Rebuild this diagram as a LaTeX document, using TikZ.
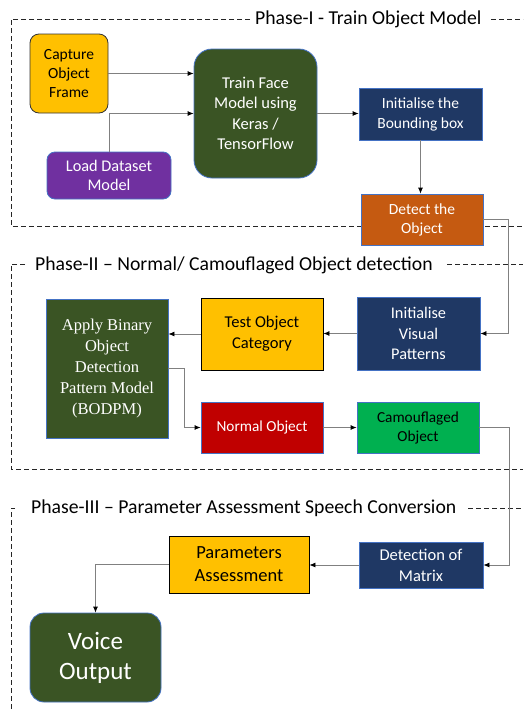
\documentclass[tikz,border=0pt]{standalone}
\usepackage{fontspec}
\setmainfont{Carlito}
\newfontfamily\serifbox{Liberation Serif}
\usetikzlibrary{arrows.meta}
\definecolor{cyellow}{HTML}{FFC000}
\definecolor{cdgreen}{HTML}{3A5424}
\definecolor{cpurple}{HTML}{7030A0}
\definecolor{cnavy}{HTML}{1F3864}
\definecolor{corange}{HTML}{C55A11}
\definecolor{cred}{HTML}{C00000}
\definecolor{cgreen}{HTML}{00B050}
\definecolor{cblueb}{HTML}{4472C4}
\definecolor{cline}{HTML}{808080}
\tikzset{
  box/.style={draw=cblueb, line width=0.8pt, align=center, inner sep=0pt, text=white},
  framedash/.style={draw=black!85, line width=0.7pt, dash pattern=on 5pt off 3pt},
  conn/.style={draw=cline, line width=0.8pt, -{Latex[length=6pt,width=5pt,color=black]}},
  phasetitle/.style={font=\fontsize{19.7}{22}\selectfont, text=black, inner sep=0pt, anchor=west}
}
\begin{document}
\begin{tikzpicture}[x=1pt,y=-1pt]
\useasboundingbox (0,0) rectangle (523,710);
\fill[white] (0,0) rectangle (523,710);
% Phase I frame
\draw[framedash] (250,19) -- (11,19) -- (11,226) -- (523,226);
\draw[framedash] (491,19) -- (523,19);
\node[phasetitle] (t1) at (255,19) {Phase-I - Train Object Model};
% Phase II frame
\draw[framedash] (25,264) -- (11,264) -- (11,469) -- (523,469);
\draw[framedash] (447,264) -- (523,264);
\node[phasetitle] (t2) at (35,265) {Phase-II – Normal/ Camouflaged Object detection};
% Phase III frame
\draw[framedash] (15,508) -- (11,508) -- (11,710);
\draw[framedash] (468,508) -- (523,508);
\node[phasetitle] (t3) at (31,508) {Phase-III – Parameter Assessment Speech Conversion};

% Phase I nodes
\node[box, draw=black!80, fill=cyellow, text=black, rounded corners=9pt, minimum width=78pt, minimum height=79pt,
  font=\fontsize{15.5}{19}\selectfont] (cap) at (69,73.5) {Capture\\Object\\Frame};
\node[box, fill=cdgreen, rounded corners=18pt, minimum width=123pt, minimum height=129pt,
  font=\fontsize{16.5}{20.5}\selectfont] (train) at (255.5,113.5) {Train Face\\Model using\\Keras /\\TensorFlow};
\node[box, fill=cpurple, rounded corners=8pt, minimum width=124pt, minimum height=47pt,
  font=\fontsize{16.3}{19.5}\selectfont] (load) at (109,175.5) {Load Dataset\\Model};
\node[box, fill=cnavy, minimum width=123pt, minimum height=52pt,
  font=\fontsize{15.5}{20}\selectfont] (initbb) at (420.5,114) {Initialise the\\Bounding box};
\node[box, fill=corange, minimum width=122pt, minimum height=51pt,
  font=\fontsize{15.5}{19}\selectfont] (detect) at (422,219.5) {Detect the\\Object};

% Phase II nodes
\node[box, fill=cdgreen, minimum width=122pt, minimum height=139pt,
  font=\serifbox\fontsize{16.5}{20.8}\selectfont] (apply) at (107,368.5) {Apply Binary\\Object\\Detection\\Pattern Model\\(BODPM)};
\node[box, draw=black, fill=cyellow, text=black, minimum width=122pt, minimum height=72pt,
  font=\fontsize{16.5}{21}\selectfont] (test) at (262,334) {Test Object\\Category};
\node[box, fill=cnavy, minimum width=123pt, minimum height=73pt,
  font=\fontsize{16.3}{20.5}\selectfont] (visual) at (418.5,333.5) {Initialise\\Visual\\Patterns};
\node[box, fill=cred, minimum width=122pt, minimum height=51pt,
  font=\fontsize{15.3}{19}\selectfont] (normal) at (262,427.5) {Normal Object};
\node[box, fill=cgreen, text=black, minimum width=122pt, minimum height=51pt,
  font=\fontsize{15.3}{19}\selectfont] (camo) at (418,427.5) {Camouflaged\\Object};

% Phase III nodes
\node[box, draw=black, fill=cyellow, text=black, minimum width=140pt, minimum height=57pt,
  font=\fontsize{18.5}{23}\selectfont] (params) at (239,564.5) {Parameters\\Assessment};
\node[box, fill=cnavy, minimum width=124pt, minimum height=46pt,
  font=\fontsize{16.5}{21}\selectfont] (dm) at (421,565) {Detection of\\Matrix};
\node[box, fill=cdgreen, rounded corners=14pt, minimum width=131pt, minimum height=89pt,
  font=\fontsize{25}{30}\selectfont] (voice) at (95.5,657.5) {Voice\\Output};

% connectors
\coordinate (r1) at (508,0);
\coordinate (r2) at (509,0);
\draw[conn] (cap.east) -- (cap.east -| train.west);
\draw[conn] (load.north) |- (train.west);
\draw[conn] (train.east) -- (train.east -| initbb.west);
\draw[conn] (initbb.south) -- (initbb.south |- detect.north);
\draw[conn] (detect.east) -- (detect.east -| r1) |- (visual.east);
\draw[conn] (visual.west) -- (visual.west -| test.east);
\draw[conn] (test.west) -- (test.west -| apply.east);
\draw[conn] (apply.east) -- ++(16,0) |- (normal.west);
\draw[conn] (normal.east) -- (normal.east -| camo.west);
\draw[conn] (camo.east) -- (camo.east -| r2) |- (dm.east);
\draw[conn] (dm.west) -- (dm.west -| params.east);
\draw[conn] (params.west) -| (voice.north);
\end{tikzpicture}
\end{document}
